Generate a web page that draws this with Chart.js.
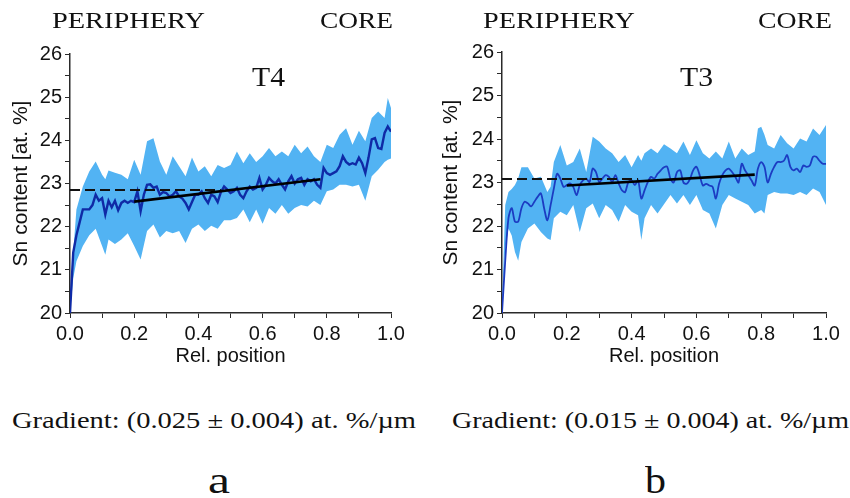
<!DOCTYPE html>
<html>
<head>
<meta charset="utf-8">
<script src="https://cdn.jsdelivr.net/npm/chart.js@4.4.1/dist/chart.umd.min.js"></script>
<style>
  html, body { margin: 0; padding: 0; background: #fff; }
  #page { position: relative; width: 850px; height: 498px; overflow: hidden; }
  canvas { position: absolute; top: 0; }
  .lbl {
    position: absolute; white-space: nowrap; line-height: 1;
    font-family: 'Liberation Serif', serif; color: #111;
    transform-origin: left center;
  }
</style>
</head>
<body>
<div id="page">
  <canvas id="chartT4" width="420" height="380" style="left:0"></canvas>
  <canvas id="chartT3" width="420" height="380" style="left:430px"></canvas>

  <div class="lbl" style="left:52px;top:8px;font-size:24px" data-w="153">PERIPHERY</div>
  <div class="lbl" style="left:320px;top:8px;font-size:24px" data-w="73">CORE</div>
  <div class="lbl" style="left:483px;top:8px;font-size:24px" data-w="152">PERIPHERY</div>
  <div class="lbl" style="left:758px;top:8px;font-size:24px" data-w="74">CORE</div>

  <div class="lbl" style="left:252px;top:63px;font-size:28px" data-w="33">T4</div>
  <div class="lbl" style="left:680px;top:63px;font-size:28px" data-w="33">T3</div>

  <div class="lbl" style="left:12px;top:408px;font-size:24px" data-w="404">Gradient: (0.025 ± 0.004) at. %/µm</div>
  <div class="lbl" style="left:452px;top:408px;font-size:24px" data-w="397">Gradient: (0.015 ± 0.004) at. %/µm</div>

  <div class="lbl" style="left:208px;top:462px;font-size:37px" data-w="22">a</div>
  <div class="lbl" style="left:645px;top:462px;font-size:37px" data-w="21">b</div>
</div>

<script>
// ---------- Data ----------
const meanX = [0, 0.01, 0.02, 0.03, 0.04, 0.05, 0.06, 0.07, 0.08, 0.09,
  0.10, 0.11, 0.12, 0.13, 0.14, 0.15, 0.16, 0.17, 0.18, 0.19,
  0.20, 0.21, 0.22, 0.23, 0.24, 0.25, 0.26, 0.27, 0.28, 0.29,
  0.30, 0.31, 0.32, 0.33, 0.34, 0.35, 0.36, 0.37, 0.38, 0.39,
  0.40, 0.41, 0.42, 0.43, 0.44, 0.45, 0.46, 0.47, 0.48, 0.49,
  0.50, 0.51, 0.52, 0.53, 0.54, 0.55, 0.56, 0.57, 0.58, 0.59,
  0.60, 0.61, 0.62, 0.63, 0.64, 0.65, 0.66, 0.67, 0.68, 0.69,
  0.70, 0.71, 0.72, 0.73, 0.74, 0.75, 0.76, 0.77, 0.78, 0.79,
  0.80, 0.81, 0.82, 0.83, 0.84, 0.85, 0.86, 0.87, 0.88, 0.89,
  0.90, 0.91, 0.92, 0.93, 0.94, 0.95, 0.96, 0.97, 0.98, 0.99, 1.00];

const t4Mean = [20.0, 21.4, 21.8, 22.1, 22.4, 22.4, 22.4, 22.5, 22.74, 22.6,
  22.66, 22.28, 22.6, 22.45, 22.6, 22.38, 22.55, 22.6, 22.55, 22.6,
  22.57, 22.82, 22.36, 22.74, 22.97, 22.98, 22.9, 22.93, 22.74, 22.8,
  22.78, 22.7, 22.74, 22.82, 22.7, 22.65, 22.55, 22.4, 22.57, 22.74,
  22.74, 22.82, 22.66, 22.55, 22.74, 22.7, 22.57, 22.8, 22.93, 22.86,
  22.78, 22.82, 22.9, 22.74, 22.66, 22.82, 22.93, 22.86, 22.9, 23.13,
  22.86, 22.97, 23.13, 23.05, 23.0, 23.1, 22.97, 22.86, 23.05, 23.17,
  23.0, 23.1, 23.13, 22.97, 23.1, 23.05, 23.1, 22.97, 22.9, 23.36,
  23.24, 23.2, 23.24, 23.28, 23.4, 23.63, 23.5, 23.44, 23.47, 23.44,
  23.6, 23.47, 23.24, 23.6, 24.02, 24.05, 23.82, 23.8, 24.17, 24.32, 24.2];

const t3Mean = [20.0, 21.2, 22.18, 22.41, 22.1, 22.1, 22.41, 22.56, 22.52, 22.45,
  22.56, 22.67, 22.75, 22.41, 22.13, 22.48, 22.86, 23.2, 23.09, 22.9,
  22.94, 22.98, 22.9, 22.71, 22.94, 23.05, 23.09, 23.01, 23.32, 23.24,
  23.01, 23.09, 23.17, 23.13, 23.01, 23.17, 22.98, 22.82, 22.78, 23.01,
  23.05, 22.94, 23.05, 22.63, 22.82, 23.01, 23.13, 23.09, 23.2, 23.28,
  23.35, 23.36, 23.08, 23.0, 23.24, 23.28, 23.0, 22.97, 23.08, 23.28,
  23.36, 23.17, 22.93, 22.97, 22.93, 22.9, 22.63, 22.97, 23.17, 23.28,
  23.32, 23.24, 23.13, 23.0, 23.43, 23.28, 23.17, 23.05, 22.93, 23.32,
  23.47, 23.36, 23.0, 23.2, 23.36, 23.47, 23.47, 23.5, 23.63, 23.36,
  23.28, 23.32, 23.24, 23.39, 23.36, 23.39, 23.59, 23.59, 23.5, 23.43, 23.43];

// spread band (upper / lower edge)
const t4BandX = [0, 0.01, 0.02, 0.04, 0.06, 0.08, 0.10, 0.11, 0.12, 0.14,
  0.16, 0.18, 0.20, 0.22, 0.24, 0.26, 0.28, 0.30, 0.32, 0.34,
  0.36, 0.38, 0.40, 0.42, 0.44, 0.46, 0.48, 0.50, 0.52, 0.54,
  0.56, 0.58, 0.60, 0.62, 0.64, 0.66, 0.68, 0.70, 0.72, 0.74,
  0.76, 0.78, 0.80, 0.82, 0.84, 0.86, 0.88, 0.90, 0.92, 0.94,
  0.96, 0.98, 0.99, 1.00];
const t4Upper = [20.1, 21.4, 22.4, 22.93, 23.28, 23.51, 23.2, 23.1, 23.3, 23.25,
  23.2, 23.1, 23.55, 23.2, 23.98, 24.05, 23.51, 23.2, 23.63, 23.4,
  23.17, 23.6, 23.28, 23.4, 23.17, 23.43, 23.36, 23.43, 23.74, 23.47,
  23.7, 23.5, 23.63, 23.82, 23.63, 23.74, 23.63, 23.9, 23.7, 23.86,
  23.63, 23.5, 23.9, 23.82, 24.13, 24.28, 23.9, 24.22, 23.98, 24.52,
  24.67, 24.52, 24.98, 24.75];
const t4Lower = [20.0, 20.8, 21.2, 21.55, 21.8, 21.95, 21.55, 21.35, 21.7, 21.6,
  21.7, 21.85, 21.55, 21.24, 21.9, 22.05, 21.75, 21.9, 21.85, 21.9,
  21.62, 21.95, 22.05, 21.9, 22.02, 21.95, 22.15, 22.15, 22.2, 22.4,
  22.1, 22.4, 22.07, 22.43, 22.3, 22.5, 22.3, 22.43, 22.5, 22.47,
  22.6, 22.5, 22.82, 22.86, 22.97, 22.97, 22.93, 22.97, 22.6, 23.17,
  23.32, 23.5, 23.55, 23.58];

const t3BandX = [0, 0.01, 0.02, 0.03, 0.04, 0.05, 0.06, 0.08, 0.10, 0.12,
  0.14, 0.15, 0.16, 0.18, 0.20, 0.22, 0.24, 0.26, 0.28, 0.30,
  0.32, 0.34, 0.36, 0.38, 0.40, 0.42, 0.43, 0.44, 0.46, 0.48,
  0.50, 0.52, 0.54, 0.56, 0.58, 0.60, 0.62, 0.64, 0.66, 0.68,
  0.70, 0.72, 0.74, 0.76, 0.78, 0.79, 0.80, 0.81, 0.82, 0.84,
  0.86, 0.88, 0.90, 0.92, 0.94, 0.96, 0.98, 1.00];
const t3Upper = [20.1, 22.48, 22.78, 22.85, 22.94, 23.1, 23.35, 23.35, 23.09, 23.13,
  22.78, 22.9, 23.47, 23.86, 23.39, 23.47, 23.78, 23.24, 24.05, 23.94,
  23.78, 23.67, 23.47, 23.63, 23.35, 23.63, 23.5, 23.67, 23.78, 23.67,
  23.88, 23.78, 23.67, 23.94, 23.63, 23.97, 23.67, 23.55, 23.71, 23.55,
  23.94, 23.55, 23.78, 23.63, 23.71, 24.24, 24.28, 24.1, 23.86, 23.78,
  24.09, 23.9, 23.78, 24.01, 23.94, 24.24, 24.09, 24.32];
const t3Lower = [20.0, 21.49, 21.94, 21.78, 21.4, 21.2, 21.63, 21.94, 22.06, 21.86,
  21.71, 21.68, 22.18, 22.33, 22.25, 22.48, 21.86, 22.41, 22.52, 22.18,
  22.48, 22.37, 22.1, 22.48, 22.33, 22.25, 21.68, 22.18, 22.48, 22.29,
  22.5, 22.71, 22.52, 22.71, 22.48, 22.71, 22.37, 22.29, 21.94, 22.48,
  22.71, 22.63, 22.56, 22.48, 22.29, 22.33, 22.37, 22.29, 22.71, 22.78,
  22.75, 22.75, 22.71, 22.78, 22.71, 22.86, 22.78, 22.48];

// linear fit (x from / to, y from / to) and plateau level (dashed)
const t4FitX = [0.2, 0.78];
const t4FitY = [22.58, 23.1];
const t4LevelX = [0, 0.47];
const t4Level = 22.85;

const t3FitX = [0.2, 0.78];
const t3FitY = [22.93, 23.18];
const t3LevelX = [0, 0.42];
const t3Level = 23.08;

const xTicks = [0, 0.2, 0.4, 0.6, 0.8, 1.0];
const yTicks = [20, 21, 22, 23, 24, 25, 26];

// ---------- Helpers ----------
const BAND = '#52b3f3';
const AXIS = '#2a2a2a';

function pts(xs, ys) {
  return xs.map((x, i) => ({ x, y: ys[i] }));
}

function makeChart(id, opts) {
  const ctx = document.getElementById(id).getContext('2d');
  new Chart(ctx, {
    type: 'line',
    data: {
      datasets: [
        { data: pts(opts.fitX, opts.fitY), borderColor: '#000', borderWidth: 2.6, order: 0 },
        { data: pts(opts.levelX, opts.levelX.map(() => opts.level)), borderColor: '#111',
          borderWidth: 1.8, borderDash: [10, 5], order: 1 },
        { data: pts(meanX, opts.mean), borderColor: opts.lineColor, borderWidth: opts.lineWidth,
          tension: opts.tension, order: 2 },
        { data: pts(opts.bandX, opts.upper), borderWidth: 0, borderColor: BAND,
          backgroundColor: BAND, fill: '+1', order: 3 },
        { data: pts(opts.bandX, opts.lower), borderWidth: 0, borderColor: BAND, fill: false, order: 4 }
      ]
    },
    options: {
      responsive: false,
      animation: false,
      elements: { point: { radius: 0 } },
      layout: { padding: { top: opts.top, right: opts.right, left: 0, bottom: 0 } },
      plugins: { legend: { display: false }, tooltip: { enabled: false } },
      scales: {
        x: {
          type: 'linear', min: 0, max: 1,
          afterBuildTicks: s => {
            s.ticks = [0, 0.1, 0.2, 0.3, 0.4, 0.5, 0.6, 0.7, 0.8, 0.9, 1.0].map(v => ({ value: v }));
          },
          afterFit: s => { s.height = 67; },
          ticks: {
            autoSkip: false, maxRotation: 0, padding: 4, color: '#111',
            font: { family: 'Liberation Sans', size: 20 },
            callback: v => xTicks.some(t => Math.abs(t - v) < 1e-6) ? v.toFixed(1) : ''
          },
          grid: { drawOnChartArea: false, tickLength: 5, tickColor: AXIS },
          border: { color: AXIS, width: 1.5 },
          title: {
            display: true, text: 'Rel. position', color: '#111',
            font: { family: 'Liberation Sans', size: 20 }, padding: { top: 0, bottom: 12 }
          }
        },
        y: {
          type: 'linear', min: 20, max: 26,
          afterBuildTicks: s => {
            s.ticks = [20, 20.5, 21, 21.5, 22, 22.5, 23, 23.5, 24, 24.5, 25, 25.5, 26].map(v => ({ value: v }));
          },
          afterFit: s => { s.width = opts.yWidth; },
          ticks: {
            autoSkip: false, padding: 3, color: '#111',
            font: { family: 'Liberation Sans', size: 20 },
            callback: v => yTicks.includes(v) ? String(v) : ''
          },
          grid: { drawOnChartArea: false, tickLength: 5, tickColor: AXIS },
          border: { color: AXIS, width: 1.5 },
          title: {
            display: true, text: 'Sn content [at. %]', color: '#111',
            font: { family: 'Liberation Sans', size: 21 }, padding: { top: 9, bottom: 0 }
          }
        }
      }
    }
  });
}

makeChart('chartT4', {
  mean: t4Mean, bandX: t4BandX, upper: t4Upper, lower: t4Lower,
  fitX: t4FitX, fitY: t4FitY, levelX: t4LevelX, level: t4Level,
  lineColor: '#0f2aa6', lineWidth: 2.4, tension: 0,
  top: 54, right: 29, yWidth: 70
});

makeChart('chartT3', {
  mean: t3Mean, bandX: t3BandX, upper: t3Upper, lower: t3Lower,
  fitX: t3FitX, fitY: t3FitY, levelX: t3LevelX, level: t3Level,
  lineColor: '#1c3cc2', lineWidth: 1.8, tension: 0.3,
  top: 52, right: 24, yWidth: 72
});

// stretch serif labels to the widths seen in the figure
document.querySelectorAll('.lbl').forEach(el => {
  const w = el.getBoundingClientRect().width;
  el.style.transform = 'scaleX(' + (+el.dataset.w / w) + ')';
});
</script>
</body>
</html>
